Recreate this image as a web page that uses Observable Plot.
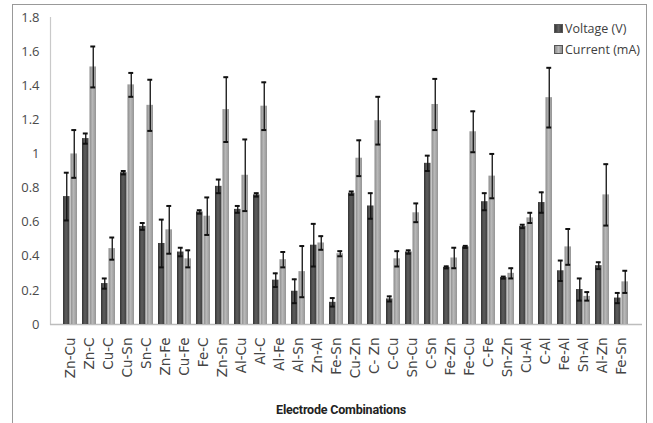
<!DOCTYPE html>
<html>
<head>
<meta charset="utf-8">
<script src="https://cdn.jsdelivr.net/npm/d3@7"></script>
<script src="https://cdn.jsdelivr.net/npm/@observablehq/plot@0.6"></script>
<style>
  html, body { margin: 0; padding: 0; background: #fff; }
  #wrap { position: relative; width: 653px; height: 423px; overflow: hidden; }
  #border { position: absolute; left: 12px; top: 4px; width: 635px; height: 440px; border: 1.5px solid #999; box-sizing: border-box; }
  .leg { position: absolute; font-family: "Open Sans", sans-serif; font-size: 12.5px; color: #404040; white-space: nowrap; line-height: 14px; }
  .sw { display: inline-block; width: 7px; height: 7px; margin-right: 2px; vertical-align: 0px; border: 0.5px solid #555; }
  #xlabel { position: absolute; left: 0; width: 682px; top: 402px; text-align: center; font-family: Roboto, sans-serif; font-weight: bold; font-size: 12.5px; letter-spacing: -0.2px; color: #222; }
</style>
</head>
<body>
<div id="wrap">
  <div id="chart"></div>
  <div id="border"></div>
  <div class="leg" style="left:554px; top:22px;"><span class="sw" style="background:linear-gradient(90deg,#3a3a3a,#626262,#3a3a3a)"></span>Voltage (V)</div>
  <div class="leg" style="left:554px; top:43px;"><span class="sw" style="background:linear-gradient(90deg,#8e8e8e,#bdbdbd,#8e8e8e)"></span>Current (mA)</div>
  <div id="xlabel">Electrode Combinations</div>
</div>
<script>
const categories = ["Zn-Cu","Zn-C","Cu-C","Cu-Sn","Sn-C","Zn-Fe","Cu-Fe","Fe-C","Zn-Sn","Al-Cu","Al-C","Al-Fe","Al-Sn","Zn-Al","Fe-Sn","Cu-Zn","C- Zn","C-Cu","Sn-Cu","C-Sn","Fe-Zn","Fe-Cu","C-Fe","Sn-Zn","Cu-Al","C-Al","Fe-Al","Sn-Al","Al-Zn","Fe-Sn"];
const voltage = [0.75,1.09,0.24,0.89,0.575,0.475,0.425,0.66,0.81,0.675,0.76,0.26,0.195,0.465,0.13,0.77,0.695,0.15,0.425,0.945,0.335,0.455,0.72,0.275,0.575,0.715,0.315,0.205,0.345,0.155];
const voltageErr = [0.14,0.03,0.03,0.01,0.02,0.14,0.025,0.01,0.04,0.02,0.01,0.04,0.07,0.125,0.025,0.01,0.075,0.015,0.01,0.045,0.006,0.006,0.05,0.006,0.01,0.06,0.06,0.065,0.02,0.03];
const current = [1.0,1.51,0.445,1.405,1.285,0.555,0.385,0.635,1.26,0.875,1.28,0.38,0.31,0.478,0.415,0.975,1.195,0.385,0.655,1.29,0.39,1.13,0.87,0.3,0.625,1.33,0.455,0.165,0.76,0.25];
const currentErr = [0.14,0.12,0.065,0.07,0.15,0.14,0.05,0.11,0.19,0.21,0.14,0.045,0.15,0.04,0.015,0.105,0.14,0.045,0.055,0.15,0.06,0.12,0.13,0.03,0.03,0.175,0.105,0.025,0.18,0.065];
const yTicks = [0, 0.2, 0.4, 0.6, 0.8, 1, 1.2, 1.4, 1.6, 1.8];
const yTickLabels = ["0","0.2","0.4","0.6","0.8","1","1.2","1.4","1.6","1.8"];

const idx = d3.range(categories.length);
const vRows = idx.map(i => ({i, v: voltage[i], lo: voltage[i] - voltageErr[i], hi: voltage[i] + voltageErr[i]}));
const cRows = idx.map(i => ({i, v: current[i], lo: current[i] - currentErr[i], hi: current[i] + currentErr[i]}));

const W = 653, H = 423, mL = 50, mR = 11, mT = 17, mB = 99;
const pInner = 0.24, pOuter = 0.12;
const step = (W - mL - mR) / (idx.length - pInner + 2 * pOuter);
const bw = step * (1 - pInner);
const half = bw / 2;
const capIn = 0.8;

const font = {fontFamily: "Open Sans, sans-serif"};

const svg = Plot.plot({
  width: W, height: H,
  marginLeft: mL, marginRight: mR, marginTop: mT, marginBottom: mB,
  style: {background: "transparent", overflow: "visible"},
  x: {domain: idx, paddingInner: pInner, paddingOuter: pOuter, label: null},
  y: {domain: [0, 1.8], label: null},
  marks: [
    Plot.frame({anchor: "left", stroke: "#c9c9c9", strokeWidth: 1.2}),
    Plot.ruleY([0], {stroke: "#bdbdbd", strokeWidth: 1.5}),
    Plot.barY(vRows, {x: "i", y: "v", fill: "url(#gV)", insetRight: half}),
    Plot.barY(cRows, {x: "i", y: "v", fill: "url(#gC)", insetLeft: half}),
    Plot.ruleX(vRows, {x: "i", y1: "lo", y2: "hi", dx: -half / 2, stroke: "#111", strokeWidth: 1.3}),
    Plot.ruleX(cRows, {x: "i", y1: "lo", y2: "hi", dx: half / 2, stroke: "#111", strokeWidth: 1.3}),
    Plot.tickY(vRows, {x: "i", y: "hi", insetLeft: capIn, insetRight: half + capIn, stroke: "#111", strokeWidth: 2}),
    Plot.tickY(vRows, {x: "i", y: "lo", insetLeft: capIn, insetRight: half + capIn, stroke: "#111", strokeWidth: 2}),
    Plot.tickY(cRows, {x: "i", y: "hi", insetLeft: half + capIn, insetRight: capIn, stroke: "#111", strokeWidth: 2}),
    Plot.tickY(cRows, {x: "i", y: "lo", insetLeft: half + capIn, insetRight: capIn, stroke: "#111", strokeWidth: 2}),
    Plot.axisY({ticks: yTicks, tickSize: 0, tickPadding: 11, tickFormat: (d) => yTickLabels[yTicks.indexOf(d)], fontSize: 13, fill: "#4a4a4a", ...font, label: null}),
    Plot.axisX({tickSize: 0, tickPadding: 13, tickRotate: -90, tickFormat: (i) => categories[i], fontSize: 13.5, fill: "#444", fontFamily: "DejaVu Sans, sans-serif", label: null})
  ]
});

svg.insertAdjacentHTML("afterbegin", `
<defs>
  <linearGradient id="gV" x1="0" x2="1" y1="0" y2="0">
    <stop offset="0" stop-color="#333"/>
    <stop offset="0.45" stop-color="#5e5e5e"/>
    <stop offset="1" stop-color="#3c3c3c"/>
  </linearGradient>
  <linearGradient id="gC" x1="0" x2="1" y1="0" y2="0">
    <stop offset="0" stop-color="#8a8a8a"/>
    <stop offset="0.45" stop-color="#b8b8b8"/>
    <stop offset="1" stop-color="#959595"/>
  </linearGradient>
</defs>`);

document.getElementById("chart").appendChild(svg);
</script>
</body>
</html>
